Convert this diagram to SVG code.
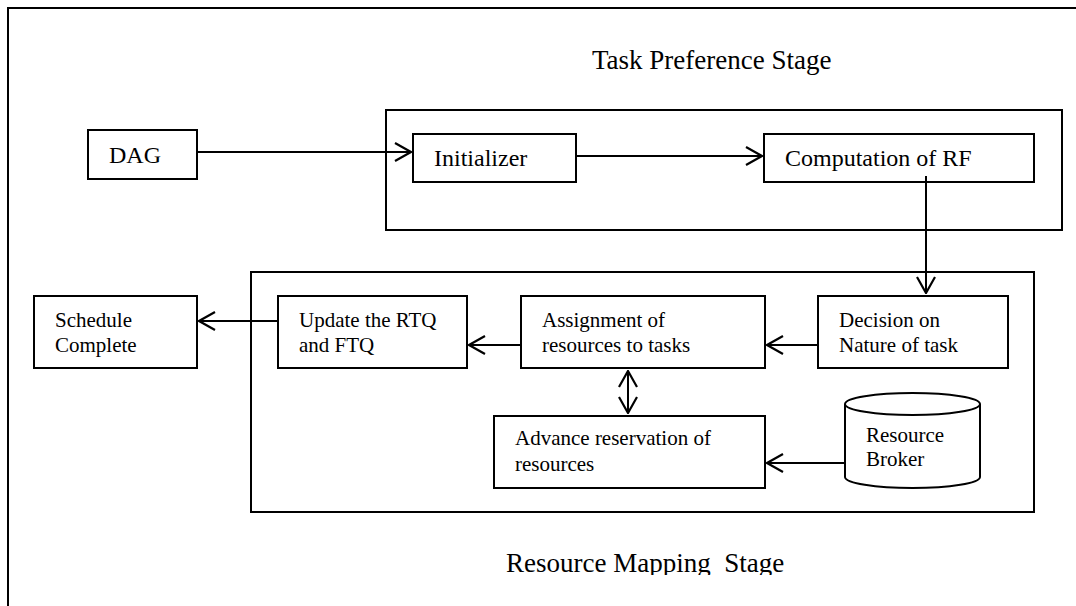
<svg xmlns="http://www.w3.org/2000/svg" width="1076" height="606" viewBox="0 0 1076 606">
<style>
.box{fill:#fff;stroke:#000;stroke-width:2}
.frame{fill:none;stroke:#000;stroke-width:2}
.t{font-family:"Liberation Serif","Times New Roman",serif;font-size:21px;fill:#000}
.tb{font-family:"Liberation Serif","Times New Roman",serif;font-size:24px;fill:#000}
.title{font-family:"Liberation Serif","Times New Roman",serif;font-size:27px;fill:#000}
.c{fill:none;stroke:#000;stroke-width:2}
</style>
<defs>
<marker id="arr" viewBox="0 0 18 20" refX="17" refY="10" markerWidth="18" markerHeight="20" orient="auto-start-reverse" markerUnits="userSpaceOnUse">
<path d="M1,1 L17,10 L1,19" fill="none" stroke="#000" stroke-width="2.2"/>
</marker>
<clipPath id="cut"><rect x="0" y="0" width="1076" height="575"/></clipPath>
</defs>
<rect width="1076" height="606" fill="#fff"/>
<path class="frame" d="M8,606 V8 H1076"/>
<g id="task-preference-stage">
<rect class="box" x="386" y="110" width="676" height="120"/>
<text class="title" x="592" y="69">Task Preference Stage</text>
</g>
<g id="resource-mapping-stage">
<rect class="box" x="251" y="272" width="783" height="240"/>
<text class="title" x="506" y="572" xml:space="preserve" clip-path="url(#cut)">Resource Mapping  Stage</text>
</g>
<g id="dag">
<rect class="box" x="88" y="130" width="109" height="49"/>
<text class="tb" x="109" y="163">DAG</text>
</g>
<g id="initializer">
<rect class="box" x="413" y="134" width="163" height="48"/>
<text class="tb" x="434" y="166">Initializer</text>
</g>
<g id="computation">
<rect class="box" x="764" y="134" width="270" height="48"/>
<text class="tb" x="785" y="166">Computation of RF</text>
</g>
<g id="schedule-complete">
<rect class="box" x="34" y="296" width="163" height="72"/>
<text class="t" x="55" y="327">Schedule</text>
<text class="t" x="55" y="352">Complete</text>
</g>
<g id="update">
<rect class="box" x="278" y="296" width="189" height="72"/>
<text class="t" x="299" y="327">Update the RTQ</text>
<text class="t" x="299" y="352">and FTQ</text>
</g>
<g id="assignment">
<rect class="box" x="521" y="296" width="244" height="72"/>
<text class="t" x="542" y="327">Assignment of</text>
<text class="t" x="542" y="352">resources to tasks</text>
</g>
<g id="decision">
<rect class="box" x="818" y="296" width="190" height="72"/>
<text class="t" x="839" y="327">Decision on</text>
<text class="t" x="839" y="352">Nature of task</text>
</g>
<g id="advance-reservation">
<rect class="box" x="494" y="416" width="271" height="72"/>
<text class="t" x="515" y="445">Advance reservation of</text>
<text class="t" x="515" y="471">resources</text>
</g>
<g id="resource-broker">
<path class="box" d="M845,404 V477 A67.5,11 0 0,0 980,477 V404"/>
<ellipse class="box" cx="912.5" cy="404" rx="67.5" ry="11"/>
<text class="t" x="866" y="442">Resource</text>
<text class="t" x="866" y="466">Broker</text>
</g>
<g id="connectors">
<line class="c" x1="197" y1="152" x2="411" y2="152" marker-end="url(#arr)"/>
<line class="c" x1="576" y1="156" x2="762" y2="156" marker-end="url(#arr)"/>
<line class="c" x1="926" y1="176" x2="926" y2="293" marker-end="url(#arr)"/>
<line class="c" x1="818" y1="345" x2="767" y2="345" marker-end="url(#arr)"/>
<line class="c" x1="521" y1="345" x2="469" y2="345" marker-end="url(#arr)"/>
<line class="c" x1="278" y1="321" x2="199" y2="321" marker-end="url(#arr)"/>
<line class="c" x1="628" y1="371" x2="628" y2="413" marker-start="url(#arr)" marker-end="url(#arr)"/>
<line class="c" x1="845" y1="463" x2="767" y2="463" marker-end="url(#arr)"/>
</g>
</svg>
